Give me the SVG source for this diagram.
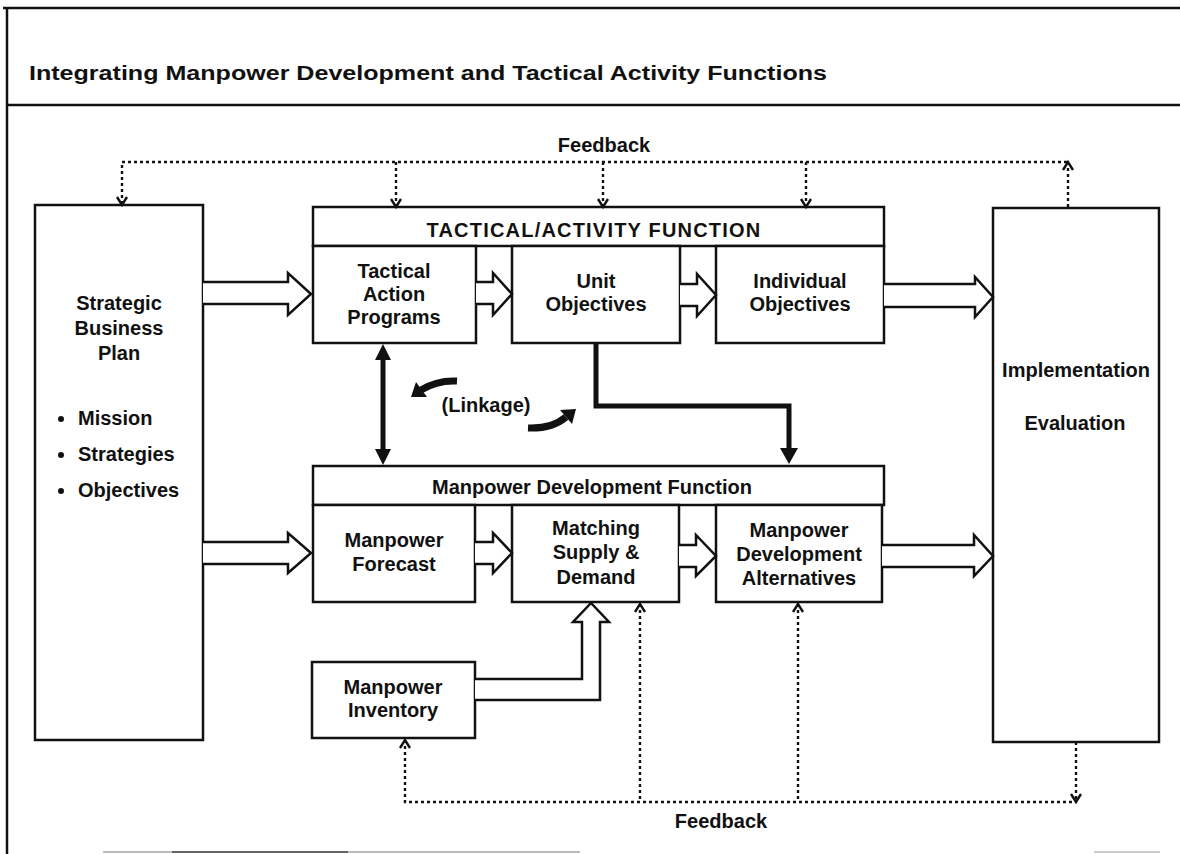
<svg xmlns="http://www.w3.org/2000/svg" width="1180" height="854" viewBox="0 0 1180 854">
<defs>
<style>
.frame{stroke:#111;stroke-width:2.5;fill:none}
.box{stroke:#111;stroke-width:2.5;fill:#fff}
.t{font-family:"Liberation Sans",Arial,sans-serif;font-weight:bold;fill:#111;font-size:20px;text-anchor:middle}
.tl{text-anchor:start}
.blk{stroke:#111;stroke-width:2.5;fill:#fff;stroke-linejoin:miter}
.dot{stroke:#111;stroke-width:2.4;fill:none;stroke-dasharray:3 3}
.chev{stroke:#111;stroke-width:2.4;fill:none}
.thick{stroke:#111;stroke-width:5;fill:none}
.fill{fill:#111;stroke:none}
</style>
</defs>
<rect width="1180" height="854" fill="#fff"/>
<g id="frame">
<line class="frame" x1="3" y1="8" x2="1180" y2="8"/>
<line class="frame" x1="7" y1="8" x2="7" y2="854"/>
<line class="frame" x1="7" y1="105" x2="1180" y2="105"/>
<line x1="103" y1="852" x2="580" y2="852" stroke="#bbb" stroke-width="2"/>
<line x1="172" y1="852" x2="348" y2="852" stroke="#666" stroke-width="2"/>
<line x1="1094" y1="852" x2="1160" y2="852" stroke="#ccc" stroke-width="2"/>
<text class="t tl" x="29" y="80" font-size="24" textLength="798" lengthAdjust="spacingAndGlyphs">Integrating Manpower Development and Tactical Activity Functions</text>
</g>
<g id="strategic">
<rect class="box" x="35" y="205" width="168" height="535"/>
<text class="t" x="119" y="310">Strategic</text>
<text class="t" x="119" y="335">Business</text>
<text class="t" x="119" y="360">Plan</text>
<circle class="fill" cx="61" cy="419" r="3"/>
<text class="t tl" x="78" y="425">Mission</text>
<circle class="fill" cx="61" cy="455" r="3"/>
<text class="t tl" x="78" y="461">Strategies</text>
<circle class="fill" cx="61" cy="491" r="3"/>
<text class="t tl" x="78" y="497">Objectives</text>
</g>
<g id="tactical-function">
<rect class="box" x="313" y="207" width="571" height="39"/>
<text class="t" x="594" y="237" font-size="19" letter-spacing="1.2">TACTICAL/ACTIVITY FUNCTION</text>
</g>
<g id="tactical-action">
<rect class="box" x="313" y="246" width="163" height="97"/>
<text class="t" x="394" y="278">Tactical</text>
<text class="t" x="394" y="301">Action</text>
<text class="t" x="394" y="324">Programs</text>
</g>
<g id="unit-objectives">
<rect class="box" x="512" y="246" width="168" height="97"/>
<text class="t" x="596" y="288">Unit</text>
<text class="t" x="596" y="311">Objectives</text>
</g>
<g id="individual-objectives">
<rect class="box" x="716" y="246" width="168" height="97"/>
<text class="t" x="800" y="288">Individual</text>
<text class="t" x="800" y="311">Objectives</text>
</g>
<g id="manpower-function">
<rect class="box" x="313" y="466" width="571" height="39"/>
<text class="t" x="592" y="494">Manpower Development Function</text>
</g>
<g id="forecast">
<rect class="box" x="313" y="505" width="162" height="97"/>
<text class="t" x="394" y="547">Manpower</text>
<text class="t" x="394" y="571">Forecast</text>
</g>
<g id="matching">
<rect class="box" x="512" y="505" width="167" height="97"/>
<text class="t" x="596" y="535">Matching</text>
<text class="t" x="596" y="559">Supply &amp;</text>
<text class="t" x="596" y="584">Demand</text>
</g>
<g id="alternatives">
<rect class="box" x="716" y="505" width="166" height="97"/>
<text class="t" x="799" y="537">Manpower</text>
<text class="t" x="799" y="561">Development</text>
<text class="t" x="799" y="585">Alternatives</text>
</g>
<g id="inventory">
<rect class="box" x="312" y="662" width="163" height="76"/>
<text class="t" x="393" y="694">Manpower</text>
<text class="t" x="393" y="717">Inventory</text>
</g>
<g id="implementation">
<rect class="box" x="993" y="208" width="166" height="534"/>
<text class="t" x="1076" y="377">Implementation</text>
<text class="t" x="1075" y="430">Evaluation</text>
</g>
<g id="connectors">
<polyline class="blk" points="203,282 288,282 288,273 311,294 288,315 288,304 203,304"/>
<polyline class="blk" points="476,282 493,282 493,273 512,294 493,315 493,304 476,304"/>
<polyline class="blk" points="680,284 697,284 697,274 716,295 697,316 697,306 680,306"/>
<polyline class="blk" points="884,284 975,284 975,277 993,297 975,317 975,307 884,307"/>
<polyline class="blk" points="203,542 288,542 288,533 311,553 288,573 288,564 203,564"/>
<polyline class="blk" points="475,542 493,542 493,533 512,553 493,573 493,564 475,564"/>
<polyline class="blk" points="679,545 696,545 696,535 716,556 696,576 696,567 679,567"/>
<polyline class="blk" points="882,545 974,545 974,535 993,556 974,576 974,567 882,567"/>
<polyline class="blk" points="475,679 582,679 582,622 573,622 591,603 609,622 600,622 600,700 475,700"/>
<line class="thick" x1="383" y1="358" x2="383" y2="451"/>
<polygon class="fill" points="383,344 375,360 391,360"/>
<polygon class="fill" points="383,465 375,449 391,449"/>
<polyline class="thick" points="596,343 596,406 789,406 789,450"/>
<polygon class="fill" points="789,464 780,448 798,448"/>
<path d="M457,381 Q437,380 421,390" stroke="#111" stroke-width="7" fill="none"/>
<polygon class="fill" points="411,397 416,382 427,397"/>
<path d="M528,428 Q552,429 566,417" stroke="#111" stroke-width="7" fill="none"/>
<polygon class="fill" points="576,409 560,410 572,424"/>
<text class="t" x="486" y="412">(Linkage)</text>
<text class="t" x="604" y="152">Feedback</text>
<polyline class="dot" points="122,204 122,162 1068,162"/>
<line class="dot" x1="396" y1="162" x2="396" y2="206"/>
<line class="dot" x1="603" y1="162" x2="603" y2="206"/>
<line class="dot" x1="806" y1="162" x2="806" y2="206"/>
<line class="dot" x1="1068" y1="168" x2="1068" y2="208"/>
<polyline class="chev" points="117,197 122,205 127,197"/>
<polyline class="chev" points="391,199 396,207 401,199"/>
<polyline class="chev" points="598,199 603,207 608,199"/>
<polyline class="chev" points="801,199 806,207 811,199"/>
<polyline class="chev" points="1063,170 1068,162 1073,170"/>
<polyline class="dot" points="405,740 405,802 1076,802"/>
<line class="dot" x1="640" y1="604" x2="640" y2="802"/>
<line class="dot" x1="798" y1="604" x2="798" y2="802"/>
<line class="dot" x1="1076" y1="742" x2="1076" y2="802"/>
<polyline class="chev" points="400,748 405,740 410,748"/>
<polyline class="chev" points="635,612 640,604 645,612"/>
<polyline class="chev" points="793,612 798,604 803,612"/>
<polyline class="chev" points="1071,794 1076,802 1081,794"/>
<text class="t" x="721" y="828">Feedback</text>
</g>
</svg>
